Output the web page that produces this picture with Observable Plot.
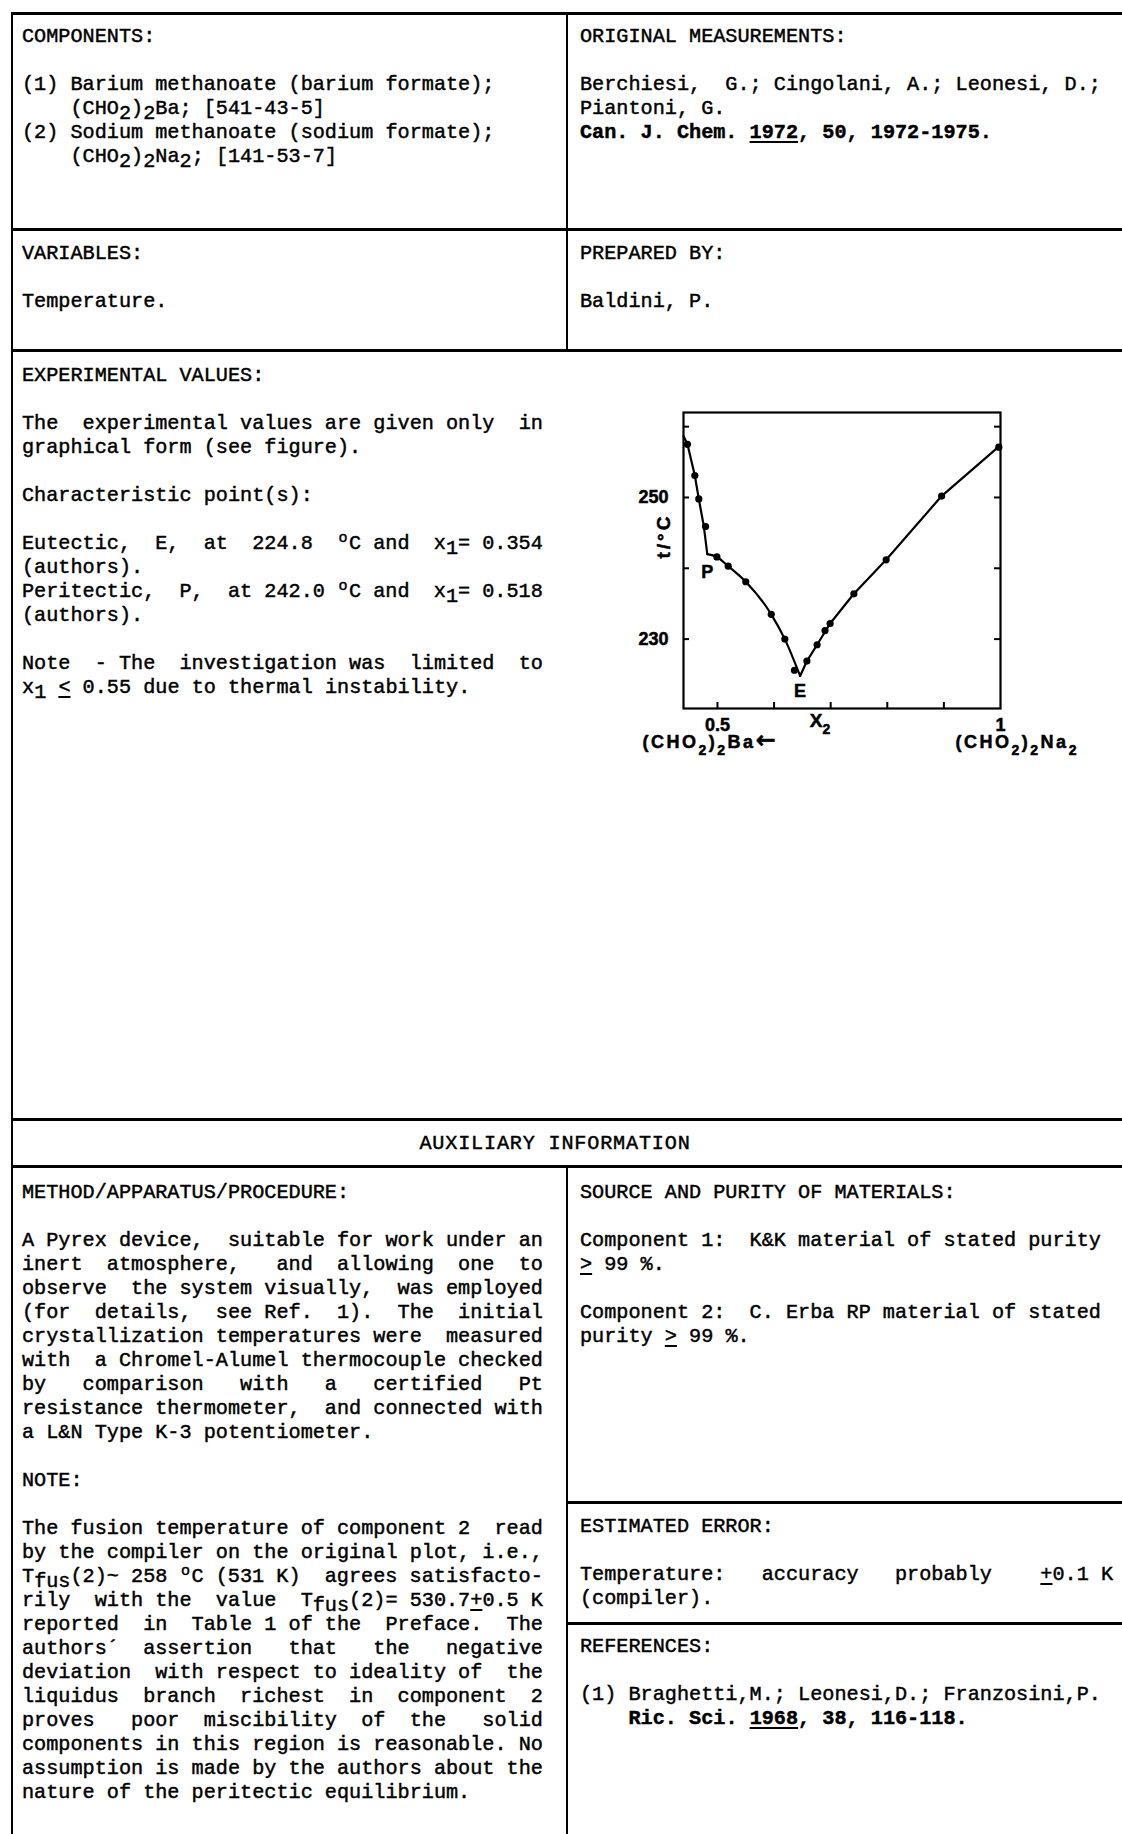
<!DOCTYPE html>
<html><head><meta charset="utf-8">
<script src="https://cdn.jsdelivr.net/npm/d3@7"></script>
<script src="https://cdn.jsdelivr.net/npm/@observablehq/plot@0.6"></script>
<style>
html,body{margin:0;padding:0;background:#fff;}
#page{position:relative;width:1122px;height:1834px;overflow:hidden;background:#fff;}
.hl{position:absolute;height:3px;background:#000;}
.vl{position:absolute;width:2px;background:#000;}
.tx{position:absolute;white-space:pre;font-family:"Liberation Mono","Courier New",monospace;font-size:20.2px;line-height:24px;color:#000;-webkit-text-stroke:0.45px #000;}
.dn{position:relative;top:5px;}
.up{display:inline-block;width:12px;font-size:15px;position:relative;top:-7px;text-align:center;line-height:0;}
u{text-underline-offset:3px;text-decoration-thickness:2px;}
b{font-weight:bold;}
#chart{position:absolute;left:600px;top:390px;}
#chart svg text{stroke:#000;stroke-width:0.5px;}
</style></head><body><div id="page">
<div class="hl" style="left:11px;top:12px;width:1111px"></div>
<div class="vl" style="left:11px;top:12px;height:1822px"></div>
<div class="vl" style="left:566px;top:12px;height:338px"></div>
<div class="hl" style="left:11px;top:228px;width:1111px"></div>
<div class="hl" style="left:11px;top:349px;width:1111px"></div>
<div class="hl" style="left:11px;top:1118px;width:1111px"></div>
<div class="hl" style="left:11px;top:1165px;width:1111px"></div>
<div class="vl" style="left:566px;top:1165px;height:669px"></div>
<div class="hl" style="left:566px;top:1501px;width:556px"></div>
<div class="hl" style="left:566px;top:1622px;width:556px"></div>

<div class="tx" style="left:22px;top:25px">COMPONENTS:

(1) Barium methanoate (barium formate);
    (CHO<span class="dn">2</span>)<span class="dn">2</span>Ba; [541-43-5]
(2) Sodium methanoate (sodium formate);
    (CHO<span class="dn">2</span>)<span class="dn">2</span>Na<span class="dn">2</span>; [141-53-7]</div>
<div class="tx" style="left:22px;top:242px">VARIABLES:

Temperature.</div>
<div class="tx" style="left:580px;top:25px">ORIGINAL MEASUREMENTS:

Berchiesi,  G.; Cingolani, A.; Leonesi, D.;
Piantoni, G.
<b>Can. J. Chem. <u>1972</u>, 50, 1972-1975.</b></div>
<div class="tx" style="left:580px;top:242px">PREPARED BY:

Baldini, P.</div>
<div class="tx" style="left:22px;top:364px">EXPERIMENTAL VALUES:

The  experimental values are given only  in
graphical form (see figure).

Characteristic point(s):

Eutectic,  E,  at  224.8  <span class="up">o</span>C and  x<span class="dn">1</span>= 0.354
(authors).
Peritectic,  P,  at 242.0 <span class="up">o</span>C and  x<span class="dn">1</span>= 0.518
(authors).

Note  - The  investigation was  limited  to
x<span class="dn">1</span> <u>&lt;</u> 0.55 due to thermal instability.</div>
<div class="tx" style="left:555px;top:1132px;transform:translateX(-50%);letter-spacing:0.8px">AUXILIARY INFORMATION</div>
<div class="tx" style="left:22px;top:1181px">METHOD/APPARATUS/PROCEDURE:

A Pyrex device,  suitable for work under an
inert  atmosphere,   and  allowing  one  to
observe  the system visually,  was employed
(for  details,  see Ref.  1).  The  initial
crystallization temperatures were  measured
with  a Chromel-Alumel thermocouple checked
by   comparison   with   a   certified   Pt
resistance thermometer,  and connected with
a L&amp;N Type K-3 potentiometer.

NOTE:

The fusion temperature of component 2  read
by the compiler on the original plot, i.e.,
T<span class="dn">fus</span>(2)~ 258 <span class="up">o</span>C (531 K)  agrees satisfacto-
rily  with the  value  T<span class="dn">fus</span>(2)= 530.7<u>+</u>0.5 K
reported  in  Table 1 of the  Preface.  The
authors´  assertion   that   the   negative
deviation  with respect to ideality of  the
liquidus  branch  richest  in  component  2
proves   poor  miscibility  of  the   solid
components in this region is reasonable. No
assumption is made by the authors about the
nature of the peritectic equilibrium.</div>
<div class="tx" style="left:580px;top:1181px">SOURCE AND PURITY OF MATERIALS:

Component 1:  K&amp;K material of stated purity
<u>&gt;</u> 99 %.

Component 2:  C. Erba RP material of stated
purity <u>&gt;</u> 99 %.</div>
<div class="tx" style="left:580px;top:1515px">ESTIMATED ERROR:

Temperature:   accuracy   probably    <u>+</u>0.1 K
(compiler).</div>
<div class="tx" style="left:580px;top:1635px">REFERENCES:

(1) Braghetti,M.; Leonesi,D.; Franzosini,P.
    <b>Ric. Sci. <u>1968</u>, 38, 116-118.</b></div>
<div id="chart"></div>
</div>
<script>
// Axis domains and ticks
const x2Domain = [0.44, 1.0];
const tDomain = [220.2, 262];
const tTicks = [230, 240, 250, 260];
const tLabelTicks = [230, 250];
const x2Ticks = [0.5, 0.6, 0.7, 0.8, 0.9];
const x2LabelTicks = [0.5, 1];

// Experimental liquidus points (X2, t/°C)
const pointX2 = [0.447, 0.460, 0.467, 0.479, 0.499, 0.519, 0.550, 0.595, 0.619, 0.636, 0.658, 0.676, 0.690, 0.699, 0.741, 0.798, 0.896, 0.997];
const pointT  = [257.5, 253.1, 249.8, 245.9, 241.6, 240.3, 238.1, 233.5, 230.0, 225.6, 226.9, 229.2, 231.2, 232.2, 236.4, 241.2, 250.2, 257.1];

// Liquidus branches as drawn
const branch1X2 = [0.440, 0.447, 0.460, 0.467, 0.476, 0.482];
const branch1T  = [258.7, 257.5, 253.1, 249.8, 245.9, 242.0];
const branch2X2 = [0.482, 0.499, 0.519, 0.550, 0.595, 0.619, 0.646];
const branch2T  = [242.0, 241.6, 240.3, 238.1, 233.5, 230.0, 224.8];
const branch3X2 = [0.646, 0.658, 0.676, 0.699, 0.741, 0.798, 0.896, 1.0];
const branch3T  = [224.8, 226.9, 229.2, 232.2, 236.4, 241.2, 250.2, 257.4];

// Characteristic points: peritectic P (x1=0.518, 242.0 °C), eutectic E (x1=0.354, 224.8 °C)
const charLabels = ["P", "E"];
const charX2 = [1 - 0.518, 1 - 0.354];
const charT = [242.0, 224.8];

// Axis / end-member labels
const yTitle = "t/°C";
const xTitle = "X₂";
const leftEnd = "(CHO₂)₂Ba←";
const rightEnd = "(CHO₂)₂Na₂";

const pts = pointX2.map((x, i) => ({x, t: pointT[i]}));
const b1 = branch1X2.map((x, i) => ({x, t: branch1T[i]}));
const b2 = branch2X2.map((x, i) => ({x, t: branch2T[i]}));
const b3 = branch3X2.map((x, i) => ({x, t: branch3T[i]}));
const P = [{x: charX2[0], t: charT[0], label: charLabels[0]}];
const E = [{x: charX2[1], t: charT[1], label: charLabels[1]}];

const W = 522, H = 400, ML = 83, MR = 122, MT = 22, MB = 82;
const fw = W - ML - MR, fh = H - MT - MB, tk = 6;

const chart = Plot.plot({
  width: W, height: H,
  marginLeft: ML, marginRight: MR, marginTop: MT, marginBottom: MB,
  x: {domain: x2Domain},
  y: {domain: tDomain},
  style: {fontFamily: "'Liberation Sans', Arial, sans-serif", fontSize: "18px", fontWeight: "bold", color: "#000", background: "transparent", overflow: "visible"},
  marks: [
    Plot.frame({stroke: "#000", strokeWidth: 2.2}),
    Plot.axisY({ticks: tLabelTicks, tickSize: 0, tickPadding: 15, label: null, tickFormat: d => String(d), fontSize: 18}),
    Plot.axisX({ticks: x2LabelTicks, tickSize: 0, tickPadding: 10, label: null, tickFormat: d => String(d), fontSize: 18}),
    Plot.tickY(tTicks, {y: d => d, insetRight: fw - tk, stroke: "#000", strokeWidth: 2}),
    Plot.tickY(tTicks, {y: d => d, insetLeft: fw - tk, stroke: "#000", strokeWidth: 2}),
    Plot.tickX(x2Ticks, {x: d => d, insetTop: fh - tk, stroke: "#000", strokeWidth: 2}),
    Plot.line(b1, {x: "x", y: "t", stroke: "#000", strokeWidth: 2.2}),
    Plot.line(b2, {x: "x", y: "t", stroke: "#000", strokeWidth: 2.2, curve: "monotone-x"}),
    Plot.line(b3, {x: "x", y: "t", stroke: "#000", strokeWidth: 2.2}),
    Plot.dot(pts, {x: "x", y: "t", r: 3.6, fill: "#000", stroke: "none"}),
    Plot.text(P, {x: "x", y: "t", text: "label", dy: 18, fontSize: 18}),
    Plot.text(E, {x: "x", y: "t", text: "label", dy: 15, fontSize: 18}),
    Plot.text([yTitle], {frameAnchor: "left", rotate: -90, dx: -20, dy: -2, fontSize: 19}),
    Plot.text([xTitle], {frameAnchor: "bottom", dx: -22, dy: 18, fontSize: 19}),
    Plot.text([leftEnd], {frameAnchor: "bottom-left", textAnchor: "start", dx: -41, dy: 39, fontSize: 18}),
    Plot.text([rightEnd], {frameAnchor: "bottom-right", textAnchor: "start", dx: -45, dy: 39, fontSize: 18})
  ]
});

// Render subscript digits lowered (typeset like the original figure)
d3.select(chart).selectAll("text").each(function () {
  const s = this.textContent;
  if (s === yTitle) { this.setAttribute("letter-spacing", "3"); return; }
  if (!s.includes("₂") && !s.includes("←")) return;
  const el = d3.select(this);
  el.text(null);
  if (s !== xTitle) el.attr("letter-spacing", "2.5");
  let low = false;
  for (const ch of s) {
    const sub = ch === "₂";
    const t = el.append("tspan").text(sub ? "2" : ch);
    if (sub && !low) t.attr("dy", 7);
    if (!sub && low) t.attr("dy", -7);
    if (sub) t.attr("font-size", 14);
    if (ch === "←") t.attr("font-size", 24).attr("font-family", "'DejaVu Sans', sans-serif");
    low = sub;
  }
});
document.getElementById("chart").appendChild(chart);
</script>
</body></html>
